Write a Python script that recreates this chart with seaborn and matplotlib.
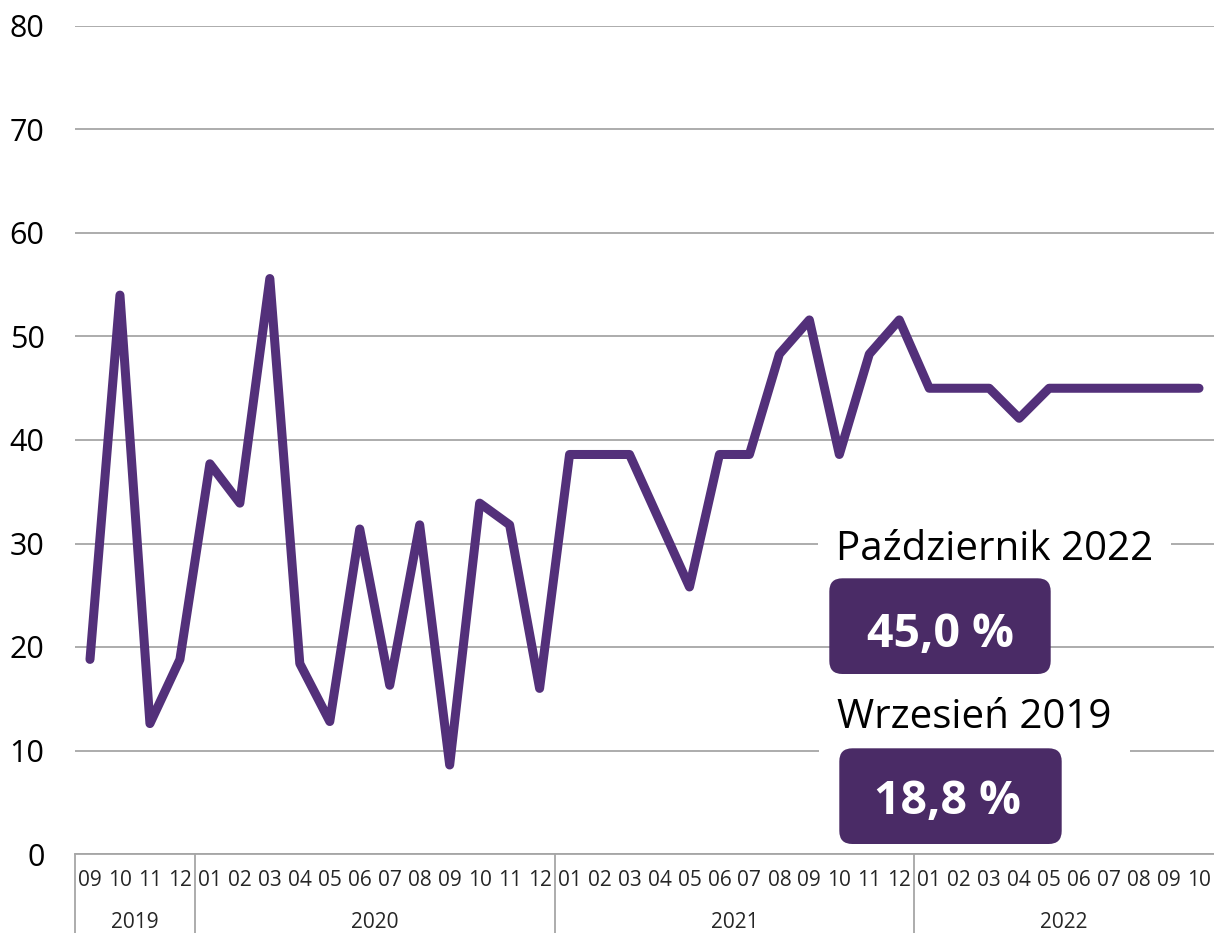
import pandas as pd
import seaborn as sns
import matplotlib.pyplot as plt
from matplotlib.patches import FancyBboxPatch

# dane: odsetek miesięczny, 2019-09 .. 2022-10
months = ['09', '10', '11', '12',
          '01', '02', '03', '04', '05', '06', '07', '08', '09', '10', '11', '12',
          '01', '02', '03', '04', '05', '06', '07', '08', '09', '10', '11', '12',
          '01', '02', '03', '04', '05', '06', '07', '08', '09', '10']
years = ['2019', '2020', '2021', '2022']
year_counts = [4, 12, 12, 10]
values = [18.8, 54.0, 12.6, 18.8,
          37.7, 33.9, 55.6, 18.4, 12.8, 31.4, 16.3, 31.8, 8.6, 33.9, 31.8, 16.0,
          38.6, 38.6, 38.6, 32.2, 25.8, 38.6, 38.6, 48.3, 51.6, 38.6, 48.3, 51.6,
          45.0, 45.0, 45.0, 42.1, 45.0, 45.0, 45.0, 45.0, 45.0, 45.0]
callout_titles = ['Październik 2022', 'Wrzesień 2019']
callout_values = [values[-1], values[0]]

LINE = '#53307a'
BOX = '#4a2b66'
GRID = '#a6a6a6'

sns.set_theme(style='white')
plt.rcParams['font.family'] = ['Open Sans', 'DejaVu Sans']

df = pd.DataFrame({'pos': range(len(values)), 'value': values})

fig = plt.figure(figsize=(12.14, 9.33), dpi=100)
W, H = 1214, 933
L, R, T, B = 75, 1214, 26, 854
ax = fig.add_axes([L / W, (H - B) / H, (R - L) / W, (B - T) / H])

sns.lineplot(data=df, x='pos', y='value', ax=ax, color=LINE, lw=6.5,
             solid_capstyle='round', solid_joinstyle='round', zorder=3)

ax.set_xlim(-0.5, len(values) - 0.5)
ax.set_ylim(0, 80)
ax.set_yticks(range(0, 81, 10))
ax.yaxis.grid(True, color=GRID, lw=1.3)
ax.set_axisbelow(True)
ax.tick_params(axis='y', length=0, pad=22, labelsize=22, labelcolor='black')
ax.set_xticks([])
ax.set_xlabel('')
ax.set_ylabel('')
for s in ['left', 'top', 'right']:
    ax.spines[s].set_visible(False)
ax.spines['bottom'].set_color(GRID)
ax.spines['bottom'].set_linewidth(1.3)

# oś x jako tabela: miesiące i lata
trans = ax.get_xaxis_transform()
for i, m in enumerate(months):
    ax.text(i, -0.0324, m, transform=trans, ha='center', va='center', fontsize=15)
start = -0.5
bounds = [start]
for y, n in zip(years, year_counts):
    ax.text(start + n / 2, -0.0827, y, transform=trans, ha='center', va='center', fontsize=15)
    start += n
    bounds.append(start)
for b in bounds[:-1]:
    ax.plot([b, b], [0, -0.1], transform=trans, color=GRID, lw=1.3, clip_on=False)


def axf(px, py):
    return (px - L) / (R - L), (B - py) / (B - T)


# objaśnienia
title_pos = [(836, 559.5), (837, 728.5)]
boxes = [(829.3, 578.3, 1050.7, 674), (839.3, 748.3, 1061.7, 844)]
val_pos = [(940, 646.7), (947, 814)]
for t, v, tp, bx, vp in zip(callout_titles, callout_values, title_pos, boxes, val_pos):
    ax.text(*axf(*tp), t, transform=ax.transAxes, ha='left', va='baseline',
            fontsize=29, color='black', zorder=5,
            bbox=dict(boxstyle='square,pad=0.45', fc='white', ec='none'))
    x0, y0 = axf(bx[0], bx[3])
    x1, y1 = axf(bx[2], bx[1])
    r = 13 / (R - L)
    ax.add_patch(FancyBboxPatch((x0, y0), x1 - x0, y1 - y0, transform=ax.transAxes,
                                boxstyle=f'round,pad=0,rounding_size={r}',
                                mutation_aspect=(R - L) / (B - T),
                                fc=BOX, ec='none', zorder=6, clip_on=False))
    label = f'{v:.1f}'.replace('.', ',') + ' %'
    ax.text(*axf(*vp), label, transform=ax.transAxes, ha='center', va='baseline',
            fontsize=33.5, fontweight='bold', color='white', zorder=7)

fig.savefig('out.png', dpi=100)
